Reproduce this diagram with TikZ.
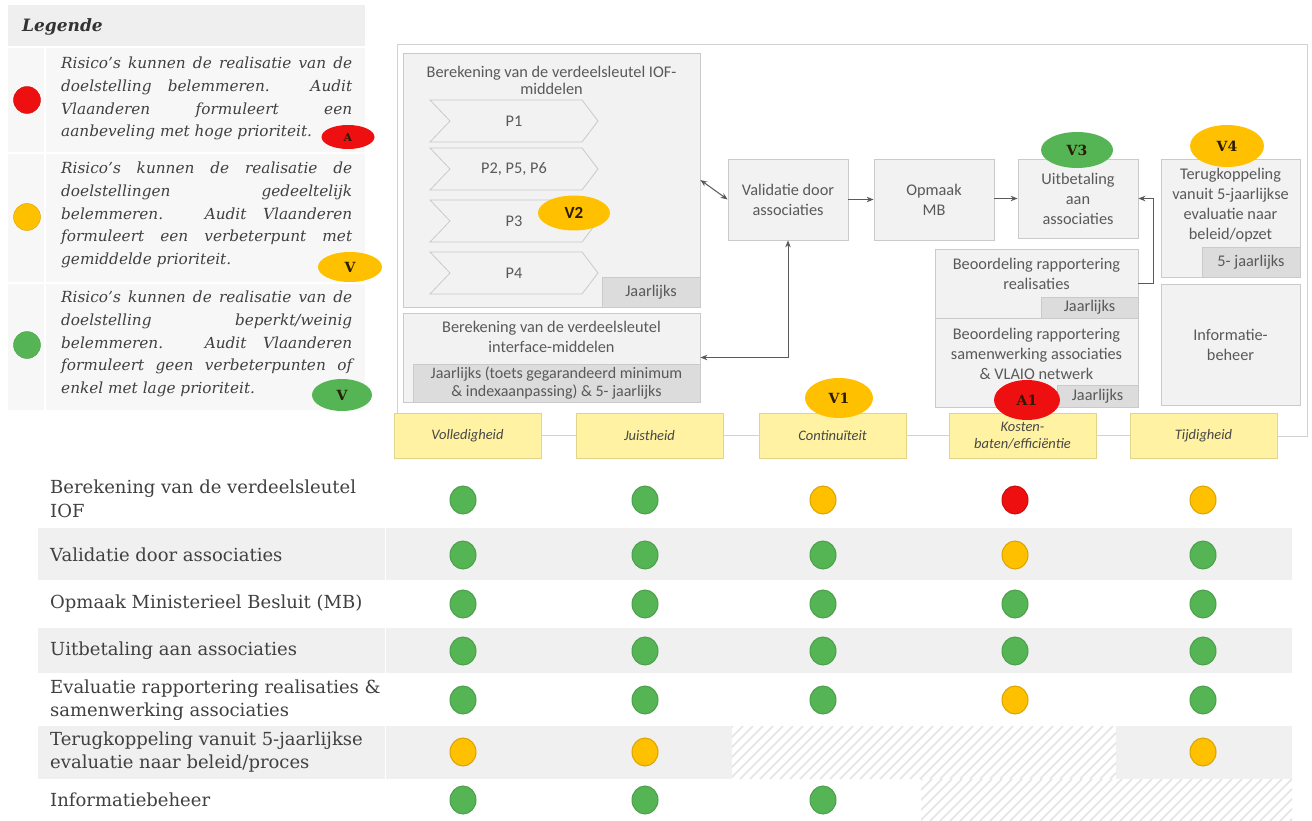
\documentclass[tikz,border=0pt]{standalone}
\usepackage{fontspec}
\setmainfont{Carlito}
\newfontfamily\legfont{DejaVu Serif}
\usetikzlibrary{arrows.meta,shapes.geometric,calc}
\definecolor{boxfill}{HTML}{F2F2F2}
\definecolor{boxline}{HTML}{CACACA}
\definecolor{subfill}{HTML}{DCDCDC}
\definecolor{txtgray}{HTML}{595959}
\definecolor{qfill}{HTML}{FFF2A3}
\definecolor{qline}{HTML}{E3D48C}
\definecolor{rred}{HTML}{EE1010}
\definecolor{ryel}{HTML}{FFC000}
\definecolor{rgrn}{HTML}{55B555}
\definecolor{rowgray}{HTML}{F0F0F0}
\definecolor{legbg}{HTML}{F7F7F7}
\definecolor{leghead}{HTML}{EFEFEF}
\definecolor{hatchc}{HTML}{E4E4E4}
\definecolor{framec}{HTML}{D2D2D2}
\definecolor{arrowc}{HTML}{5A5A5A}
\definecolor{badgetxt}{HTML}{2A1C00}
\definecolor{labtxt}{HTML}{404040}
\tikzset{
  pbox/.style={draw=boxline, fill=boxfill, line width=0.8pt, inner sep=0pt},
  ptext/.style={text=txtgray, font=\fontsize{16.3}{20}\selectfont, align=center, inner sep=0pt},
  subbox/.style={fill=subfill, draw=boxline, line width=0.6pt, text=txtgray, font=\fontsize{16.3}{19}\selectfont, inner sep=0pt, align=center},
  chevst/.style={draw=boxline, fill=boxfill, line width=0.8pt},
  qbox/.style={draw=qline, fill=qfill, line width=0.8pt, minimum width=147pt, minimum height=45pt, inner sep=0pt, text=black!72, font=\itshape\fontsize{14.5}{17.5}\selectfont, align=center},
  badge/.style={ellipse, inner sep=0pt, text=badgetxt, font=\legfont\bfseries\fontsize{14}{14}\selectfont},
  ybadge/.style={badge, fill=ryel},
  gbadge/.style={badge, fill=rgrn},
  rbadge/.style={badge, fill=rred},
  dot/.style={ellipse, minimum width=26pt, minimum height=28pt, inner sep=0pt, line width=1pt},
  gdot/.style={dot, fill=rgrn, draw=rgrn!88!black},
  ydot/.style={dot, fill=ryel, draw=ryel!85!black},
  rdot/.style={dot, fill=rred, draw=rred!85!black},
  legtext/.style={anchor=north west, inner sep=0pt, text width=291pt, align=justify, text=black!75, font=\legfont\itshape\fontsize{15.3}{22.7}\selectfont},
  rowlab/.style={anchor=west, inner sep=0pt, text=labtxt, align=left, font=\legfont\fontsize{18}{23.5}\selectfont},
  conn/.style={draw=arrowc, line width=1pt, -{Stealth[length=7pt,width=5.5pt]}},
  dconn/.style={draw=arrowc, line width=1pt, {Stealth[length=7pt,width=5.5pt]}-{Stealth[length=7pt,width=5.5pt]}},
  framest/.style={draw=framec, line width=1pt},
  hatchst/.style={draw=hatchc, line width=1.6pt}
}
\newcommand\chev[3]{%
  \draw[chevst] (430,#1) -- (582,#1) -- (598,{#1+21}) -- (582,{#1+42}) -- (430,{#1+42}) -- (450,{#1+21}) -- cycle;
  \node[ptext] (#3) at (514,{#1+21}) {#2};}
\begin{document}
\begin{tikzpicture}[x=1pt,y=-1pt]
\useasboundingbox (0,0) rectangle (1312,821);
\fill[white] (0,0) rectangle (1312,821);
% ---------------- Legend ----------------
\fill[legbg] (8,5) rectangle (365,410);
\fill[leghead] (8,5) rectangle (365,47);
\draw[white, line width=1.5pt] (8,47) -- (365,47) (8,153) -- (365,153) (8,283) -- (365,283) (45,47) -- (45,410);
\node[anchor=west, inner sep=0pt, text=black!80, font=\legfont\bfseries\itshape\fontsize{17}{20}\selectfont] (legtitle) at (22,27) {Legende};
\node[circle, minimum size=27pt, inner sep=0pt, fill=rred, draw=rred!85!black] (lr) at (27,100) {};
\node[circle, minimum size=27pt, inner sep=0pt, fill=ryel, draw=ryel!85!black] (ly) at (27,217) {};
\node[circle, minimum size=27pt, inner sep=0pt, fill=rgrn, draw=rgrn!88!black] (lg) at (27,345) {};
\node[legtext] (lt1) at (61,57) {Risico’s kunnen de realisatie van de\linebreak doelstelling belemmeren. Audit\linebreak Vlaanderen formuleert een\linebreak aanbeveling met hoge prioriteit.};
\node[legtext] (lt2) at (61,162) {Risico’s kunnen de realisatie de\linebreak doelstellingen gedeeltelijk\linebreak belemmeren. Audit Vlaanderen\linebreak formuleert een verbeterpunt met\linebreak gemiddelde prioriteit.};
\node[legtext] (lt3) at (61,291) {Risico’s kunnen de realisatie van de\linebreak doelstelling beperkt/weinig\linebreak belemmeren. Audit Vlaanderen\linebreak formuleert geen verbeterpunten of\linebreak enkel met lage prioriteit.};
\node[rbadge, minimum width=53pt, minimum height=24pt, font=\legfont\bfseries\fontsize{11}{11}\selectfont] (la) at (348,137) {A};
\node[ybadge, minimum width=64pt, minimum height=30pt] (lv1) at (350,267) {V};
\node[gbadge, minimum width=60pt, minimum height=32pt] (lv2) at (342,395) {V};
% ---------------- Process frame ----------------
\draw[framest] (397,413) -- (397,45) -- (1307,45) -- (1307,436) -- (1278,436);
% IOF box
\node[pbox, minimum width=297pt, minimum height=254pt] (iof) at (551.5,180) {};
\node[ptext, font=\fontsize{16.3}{17}\selectfont] (ioft) at (551.5,80) {Berekening van de verdeelsleutel IOF-\\middelen};
\chev{100}{P1}{p1}
\chev{148}{P2, P5, P6}{p2}
\chev{200}{P3}{p3}
\chev{252}{P4}{p4}
\node[subbox, minimum width=98pt, minimum height=30pt] (iofj) at (651,292) {Jaarlijks};
\node[ybadge, minimum width=72pt, minimum height=35pt, font=\bfseries\fontsize{17}{17}\selectfont] (v2) at (574,213) {V2};
% interface box
\node[pbox, minimum width=297pt, minimum height=89pt] (intf) at (551.5,357.5) {};
\node[ptext] (intft) at (551.5,337) {Berekening van de verdeelsleutel\\interface-middelen};
\node[subbox, minimum width=287pt, minimum height=38pt, font=\fontsize{16}{18.5}\selectfont] (intfj) at (556.5,383) {Jaarlijks (toets gegarandeerd minimum\\\& indexaanpassing) \& 5- jaarlijks};
% flow boxes
\node[pbox, ptext, minimum width=120pt, minimum height=81pt, draw=boxline, fill=boxfill] (val) at (788,199.5) {Validatie door\\associaties};
\node[pbox, ptext, minimum width=120pt, minimum height=81pt, draw=boxline, fill=boxfill] (opm) at (934,199.5) {Opmaak\\MB};
\node[pbox, ptext, minimum width=120pt, minimum height=79pt, draw=boxline, fill=boxfill] (uit) at (1078,198.5) {Uitbetaling\\aan\\associaties};
\node[pbox, minimum width=139pt, minimum height=118pt] (ter) at (1230.5,218) {};
\node[ptext] (tert) at (1230.5,205) {Terugkoppeling\\vanuit 5-jaarlijkse\\evaluatie naar\\beleid/opzet};
\node[subbox, minimum width=98pt, minimum height=30pt] (terj) at (1251,262) {5- jaarlijks};
\node[pbox, ptext, minimum width=139pt, minimum height=121pt, draw=boxline, fill=boxfill] (info) at (1230.5,344.5) {Informatie-\\beheer};
\node[pbox, minimum width=203pt, minimum height=69pt] (breal) at (1036.5,283.5) {};
\node[ptext] (brealt) at (1036.5,274) {Beoordeling rapportering\\realisaties};
\node[subbox, minimum width=97pt, minimum height=21pt] (brealj) at (1089.5,307.5) {Jaarlijks};
\node[pbox, minimum width=203pt, minimum height=89pt] (bsam) at (1036.5,362.5) {};
\node[ptext] (bsamt) at (1036.5,354) {Beoordeling rapportering\\samenwerking associaties\\\& VLAIO netwerk};
\node[subbox, minimum width=81pt, minimum height=22pt] (bsamj) at (1097.5,396) {Jaarlijks};
% connectors
\draw[dconn] (iof.east) -- (val.west);
\draw[conn] (val.east) -- (opm.west);
\draw[conn] (opm.east) -- (uit.east -| opm.east) -- (uit.west);
\draw[conn] (breal.east) -- ++(15,0) |- (uit.east);
\draw[dconn] (val.south) |- (intf.east);
% quality boxes
\node[qbox] (vol) at (467.5,435.5) {Volledigheid};
\node[qbox] (jui) at (649.5,435.5) {Juistheid};
\node[qbox] (con) at (832.5,435.5) {Continuïteit};
\node[qbox] (kos) at (1022.5,435.5) {Kosten-\\baten/efficiëntie};
\node[qbox] (tij) at (1203.5,435.5) {Tijdigheid};
\draw[framest] (vol.east) -- (jui.west) (jui.east) -- (con.west) (con.east) -- (kos.west) (kos.east) -- (tij.east -| tij.west);
% badges
\node[gbadge, minimum width=72pt, minimum height=36pt] (v3) at (1077,150) {V3};
\node[ybadge, minimum width=74pt, minimum height=42pt] (v4) at (1227,146) {V4};
\node[ybadge, minimum width=68pt, minimum height=40pt] (v1) at (839,398) {V1};
\node[rbadge, minimum width=66pt, minimum height=40pt] (a1) at (1027,400) {A1};
% ---------------- Table ----------------
\fill[rowgray] (38,528) rectangle (1292,580);
\fill[rowgray] (38,628) rectangle (1292,673);
\fill[rowgray] (38,726) rectangle (1292,779);
\fill[white] (732,726) rectangle (1116,779);
\begin{scope}
  \clip (732,726) rectangle (1116,779);
  \foreach \i in {0,...,45} \draw[hatchst] ({680+\i*10},779) -- ++(53,-53);
\end{scope}
\begin{scope}
  \clip (921,779) rectangle (1292,821);
  \foreach \i in {0,...,45} \draw[hatchst] ({870+\i*10},821) -- ++(42,-42);
\end{scope}
\draw[white, line width=0.7pt] (385,472) -- (385,821);
\node[rowlab] (r1) at (50,499) {Berekening van de verdeelsleutel\\IOF};
\node[rowlab] (r2) at (50,555) {Validatie door associaties};
\node[rowlab] (r3) at (50,604) {Opmaak Ministerieel Besluit (MB)};
\node[rowlab] (r4) at (50,651) {Uitbetaling aan associaties};
\node[rowlab] (r5) at (50,700) {Evaluatie rapportering realisaties \&\\samenwerking associaties};
\node[rowlab] (r6) at (50,752) {Terugkoppeling vanuit 5-jaarlijkse\\evaluatie naar beleid/proces};
\node[rowlab] (r7) at (50,800) {Informatiebeheer};
% dots
\foreach \st [count=\c] in {gdot,gdot,ydot,rdot,ydot} {
  \pgfmathsetmacro\xx{{463,645,823,1015,1203}[\c-1]}
  \node[\st] (d1\c) at (\xx,500) {};
}
\foreach \st [count=\c] in {gdot,gdot,gdot,ydot,gdot} {
  \pgfmathsetmacro\xx{{463,645,823,1015,1203}[\c-1]}
  \node[\st] (d2\c) at (\xx,555) {};
}
\foreach \st [count=\c] in {gdot,gdot,gdot,gdot,gdot} {
  \pgfmathsetmacro\xx{{463,645,823,1015,1203}[\c-1]}
  \node[\st] (d3\c) at (\xx,604) {};
  \node[\st] (d4\c) at (\xx,651) {};
}
\foreach \st [count=\c] in {gdot,gdot,gdot,ydot,gdot} {
  \pgfmathsetmacro\xx{{463,645,823,1015,1203}[\c-1]}
  \node[\st] (d5\c) at (\xx,700) {};
}
\node[ydot] (d61) at (463,752) {};
\node[ydot] (d62) at (645,752) {};
\node[ydot] (d65) at (1203,752) {};
\node[gdot] (d71) at (463,800) {};
\node[gdot] (d72) at (645,800) {};
\node[gdot] (d73) at (823,800) {};
\end{tikzpicture}
\end{document}
